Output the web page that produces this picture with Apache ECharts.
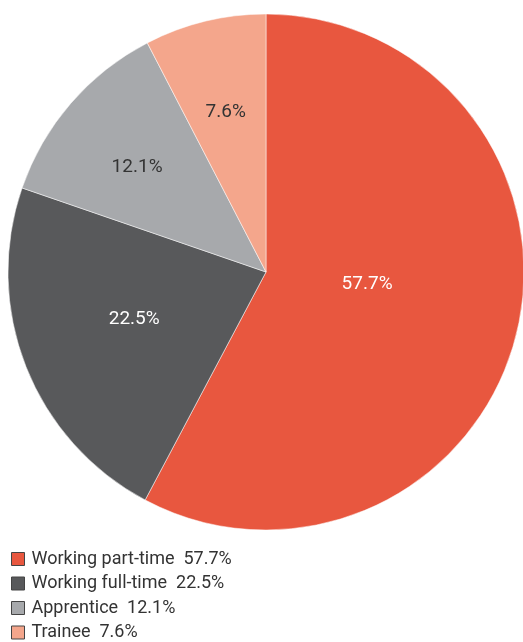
<!DOCTYPE html>
<html>
<head>
<meta charset="utf-8">
<style>
  html, body { margin: 0; padding: 0; background: #fff; }
  #chart { width: 523px; height: 642px; }
</style>
<script src="https://cdn.jsdelivr.net/npm/echarts@6/dist/echarts.min.js"></script>
</head>
<body>
<div id="chart"></div>
<script>
// Status breakdown (percent)
const categories = ['Working part-time', 'Working full-time', 'Apprentice', 'Trainee'];
const values = [57.7, 22.5, 12.1, 7.6];
const colors = ['#E8573F', '#58595B', '#A7A9AC', '#F4A68C'];
const labelColors = ['#ffffff', '#ffffff', '#333333', '#333333'];
const labelOffsets = [[-27, -20], [-9, -1], [-29, -18], [-9, -32]];

const chart = echarts.init(document.getElementById('chart'));
const fontFamily = 'Roboto, "Noto Sans", sans-serif';

chart.setOption({
  animation: false,
  color: colors,
  legend: {
    orient: 'vertical',
    left: 6,
    top: 545,
    height: 100,
    itemWidth: 13,
    itemHeight: 13,
    itemGap: 6.5,
    icon: 'rect',
    itemStyle: { borderColor: '#444', borderWidth: 1 },
    textStyle: { fontFamily: fontFamily, fontSize: 18, color: '#333', padding: [0, 0, 0, 2] },
    formatter: function (name) {
      const i = categories.indexOf(name);
      return name + '  ' + values[i].toFixed(1) + '%';
    },
    data: categories
  },
  series: [{
    type: 'pie',
    center: [266, 272],
    radius: 258,
    startAngle: 90,
    clockwise: true,
    avoidLabelOverlap: false,
    itemStyle: { borderColor: '#ffffff', borderWidth: 0.5 },
    label: {
      position: 'inside',
      fontFamily: fontFamily,
      fontSize: 19,
      formatter: function (p) { return p.value.toFixed(1) + '%'; }
    },
    labelLine: { show: false },
    emphasis: { disabled: true },
    data: categories.map(function (c, i) {
      return {
        name: c,
        value: values[i],
        label: { color: labelColors[i], offset: labelOffsets[i] }
      };
    })
  }]
});
</script>
</body>
</html>
